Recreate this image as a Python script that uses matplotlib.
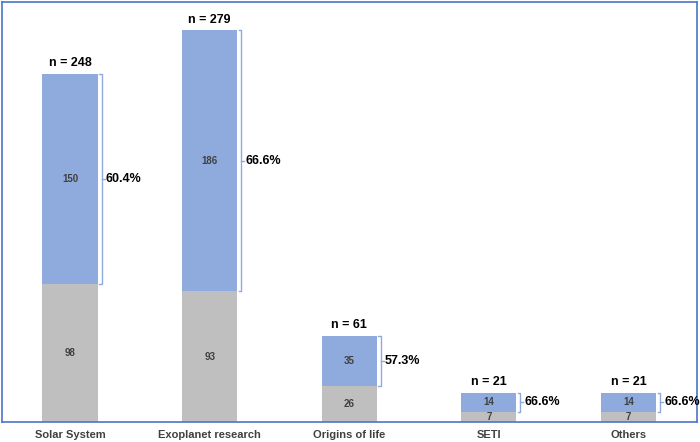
import matplotlib
matplotlib.use("Agg")
import matplotlib.pyplot as plt

plt.rcParams["font.family"] = ["Liberation Sans", "DejaVu Sans"]

categories = ["Solar System", "Exoplanet research", "Origins of life", "SETI", "Others"]
gray_vals = [98, 93, 26, 7, 7]
blue_vals = [150, 186, 35, 14, 14]
totals = [248, 279, 61, 21, 21]
pct_labels = ["60.4%", "66.6%", "57.3%", "66.6%", "66.6%"]

BLUE = "#8FAADC"
GRAY = "#BFBFBF"
FRAME = "#4A76C8"

fig = plt.figure(figsize=(7, 4.42), dpi=100)
ax = fig.add_axes([2/700, 20/442, 695/700, 420/442])

x = list(range(len(categories)))
w = 0.394
ax.bar(x, gray_vals, width=w, color=GRAY, zorder=2)
ax.bar(x, blue_vals, bottom=gray_vals, width=w, color=BLUE, zorder=2)

px = 1/139.6  # data units per pixel in x
for i in x:
    g, b, t = gray_vals[i], blue_vals[i], totals[i]
    ax.text(i, g/2, str(g), ha="center", va="center", fontsize=7, color="#404040", fontweight="bold")
    ax.text(i, g + b/2, str(b), ha="center", va="center", fontsize=7, color="#404040", fontweight="bold")
    ax.text(i, t + 3.5, f"n = {t}", ha="center", va="bottom", fontsize=9, fontweight="bold", color="black")
    # bracket
    xr = i + w/2
    xb = xr + 4*px
    xh = xr + 1.5*px
    ax.plot([xh, xb, xb, xh], [t, t, g, g], color=BLUE, lw=1.0, zorder=3, solid_joinstyle="round")
    ym = g + b/2
    ax.plot([xb, xb + 3*px], [ym, ym], color=BLUE, lw=1.0, zorder=3)
    ax.text(xb + 4*px, ym, pct_labels[i], ha="left", va="center", fontsize=9, fontweight="bold",
            color="black", family=["Liberation Sans Narrow", "Liberation Sans", "DejaVu Sans"])

ax.set_xlim(-0.487, 4.49)
ax.set_ylim(0, 299.3)
ax.set_yticks([])
ax.set_xticks(x)
ax.set_xticklabels(categories, fontsize=8, fontweight="bold", color="#404040")
ax.tick_params(axis="x", length=0, pad=6)
for s in ax.spines.values():
    s.set_color(FRAME)
    s.set_linewidth(1.2)

fig.savefig("out.png", dpi=100)
